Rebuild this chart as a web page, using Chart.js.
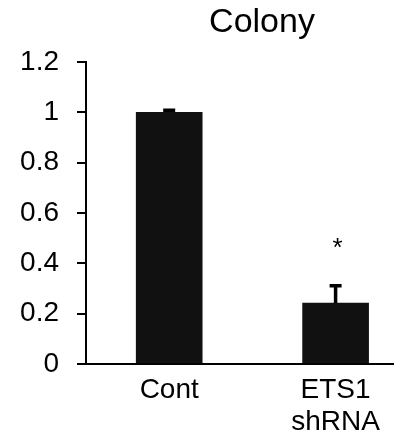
<!DOCTYPE html>
<html>
<head>
<meta charset="utf-8">
<script src="https://cdn.jsdelivr.net/npm/chart.js@4.4.1/dist/chart.umd.min.js"></script>
<style>
    html, body { margin: 0; padding: 0; background: #fff; }
    #wrap { width: 398px; height: 442px; position: relative; }
</style>
</head>
<body>
<div id="wrap"><canvas id="colonyChart"></canvas></div>
<script>
// ----------------------
//  DATA
// ----------------------
const chartTitle = 'Colony';
const categories = ['Cont', ['ETS1', 'shRNA']];
const colonyValues = [1.0, 0.242];
const colonyErrors = [0.008, 0.069];
const significance = ['', '*'];
const yTickValues = [0, 0.2, 0.4, 0.6, 0.8, 1, 1.2];
const yTickLabels = ['0', '0.2', '0.4', '0.6', '0.8', '1', '1.2'];

const FONT = "'Liberation Sans', Arial, sans-serif";
Chart.defaults.font.family = FONT;
Chart.defaults.color = '#000';

// bars sit at x = 1, 2 on a linear axis so the spacing can match the original
const barData = colonyValues.map((v, i) => ({ x: i + 1, y: v }));

// ----------------------
//  PLUGINS
// ----------------------
const errorBars = {
    id: 'errorBars',
    afterDatasetsDraw(chart) {
        const { ctx, scales: { x, y } } = chart;
        ctx.save();
        ctx.strokeStyle = '#000';
        ctx.fillStyle = '#000';
        ctx.lineWidth = 3.5;
        colonyValues.forEach((v, i) => {
            const px = x.getPixelForValue(i + 1);
            const y0 = y.getPixelForValue(v);
            const y1 = y.getPixelForValue(v + colonyErrors[i]);
            ctx.beginPath();
            ctx.moveTo(px, y0);
            ctx.lineTo(px, y1);
            ctx.moveTo(px - 6, y1);
            ctx.lineTo(px + 6, y1);
            ctx.stroke();
            if (significance[i]) {
                ctx.font = '26px ' + FONT;
                ctx.textAlign = 'center';
                ctx.textBaseline = 'alphabetic';
                ctx.fillText(significance[i], px + 2, y1 - 30);
            }
        });
        ctx.restore();
    }
};

const titleText = {
    id: 'titleText',
    afterDraw(chart) {
        const ctx = chart.ctx;
        ctx.save();
        ctx.font = '34px ' + FONT;
        ctx.fillStyle = '#000';
        ctx.textAlign = 'center';
        ctx.textBaseline = 'middle';
        ctx.fillText(chartTitle, 262, 23);
        ctx.restore();
    }
};

// ----------------------
//  CHART
// ----------------------
const ctx = document.getElementById('colonyChart').getContext('2d');
new Chart(ctx, {
    type: 'bar',
    data: {
        datasets: [{
            data: barData,
            backgroundColor: '#111111',
            borderWidth: 0,
            barThickness: 66,
        }]
    },
    options: {
        responsive: true,
        maintainAspectRatio: false,
        animation: false,
        layout: { padding: { top: 62, right: 5, left: 0, bottom: 0 } },
        plugins: {
            legend: { display: false },
            tooltip: { enabled: false },
            title: { display: false },
        },
        scales: {
            x: {
                type: 'linear',
                offset: false,
                min: 0.5,
                max: 2.345,
                afterBuildTicks: (s) => { s.ticks = categories.map((c, i) => ({ value: i + 1 })); },
                afterFit: (s) => { s.height = 78; },
                grid: { display: false, drawTicks: false },
                border: { display: true, color: '#000', width: 2 },
                ticks: {
                    padding: 10,
                    autoSkip: false,
                    maxRotation: 0,
                    font: { size: 28, lineHeight: 1.143 },
                    callback: (value) => categories[value - 1],
                },
            },
            y: {
                min: 0,
                max: 1.2,
                afterBuildTicks: (s) => { s.ticks = yTickValues.map(v => ({ value: v })); },
                afterFit: (s) => { s.width = 86; },
                grid: { drawOnChartArea: false, drawTicks: true, tickLength: 9, color: '#000', lineWidth: 2 },
                border: { color: '#000', width: 2 },
                ticks: {
                    padding: 18,
                    font: { size: 28 },
                    callback: (value) => yTickLabels[yTickValues.indexOf(value)],
                },
            },
        },
    },
    plugins: [errorBars, titleText],
});
</script>
</body>
</html>
